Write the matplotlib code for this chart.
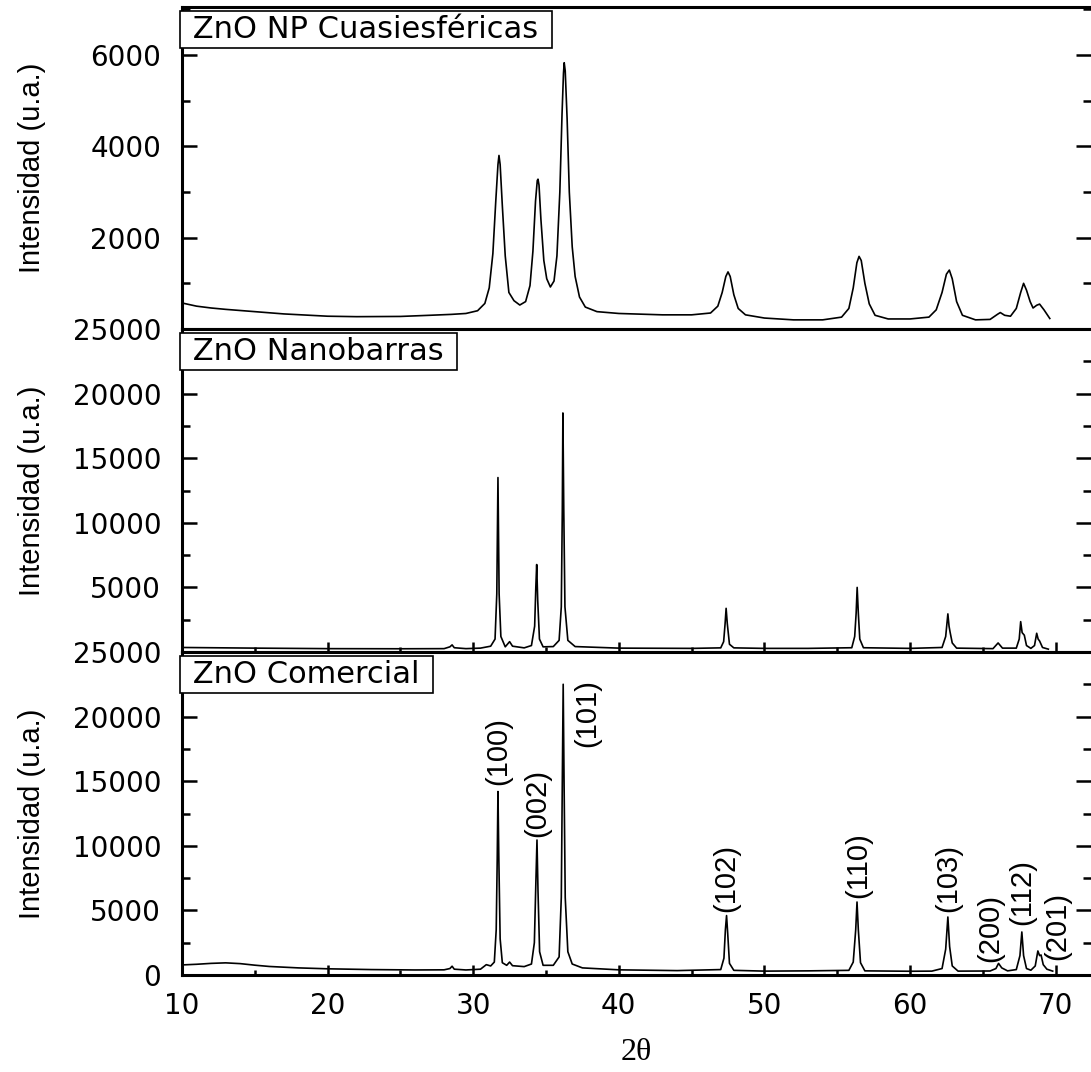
import matplotlib
matplotlib.use('Agg')
import matplotlib.pyplot as plt
from matplotlib import font_manager
from matplotlib.ticker import MultipleLocator

# ---------------------------------------------------------------------------
# Data
# ---------------------------------------------------------------------------

# ZnO NP Cuasiesfericas
np_x = [10.0, 11.0, 12.0, 13.0, 15.0, 17.0, 20.0, 22.0, 25.0, 27.0,
        28.5, 29.5, 30.3, 30.8, 31.1, 31.35, 31.55, 31.7, 31.77, 31.85,
        32.0, 32.2, 32.45, 32.8, 33.2, 33.6, 33.9, 34.1, 34.28, 34.4,
        34.45, 34.52, 34.65, 34.85, 35.05, 35.3, 35.55, 35.75, 35.95, 36.1,
        36.2, 36.25, 36.32, 36.45, 36.6, 36.8, 37.0, 37.3, 37.7, 38.5,
        40.0, 43.0, 45.0, 46.3, 46.8, 47.1, 47.35, 47.5, 47.65, 47.9,
        48.2, 48.7, 50.0, 52.0, 54.0, 55.3, 55.8, 56.1, 56.35, 56.5,
        56.65, 56.9, 57.2, 57.6, 58.5, 60.0, 61.3, 61.8, 62.2, 62.5,
        62.7, 62.9, 63.2, 63.6, 64.5, 65.5, 66.0, 66.2, 66.5, 66.9,
        67.3, 67.6, 67.8, 68.0, 68.25, 68.45, 68.7, 68.9, 69.2, 69.6]
np_y = [570, 500, 460, 430, 380, 330, 280, 270, 275, 300,
        320, 340, 400, 560, 900, 1650, 2800, 3600, 3800, 3600,
        2700, 1600, 800, 620, 525, 600, 950, 1700, 2800, 3250,
        3280, 3150, 2400, 1500, 1100, 920, 1050, 1600, 3000, 4700,
        5600, 5830, 5650, 4600, 3000, 1800, 1150, 700, 480, 380,
        340, 310, 310, 350, 500, 800, 1150, 1250, 1150, 750,
        450, 310, 240, 200, 200, 260, 450, 900, 1450, 1590,
        1500, 1000, 550, 300, 220, 220, 260, 420, 800, 1200,
        1290, 1100, 600, 300, 200, 210, 320, 360, 300, 280,
        450, 800, 1000, 850, 600, 460, 520, 545, 420, 230]

# ZnO Nanobarras
nb_x = [10.0, 15.0, 20.0, 25.0, 28.0, 28.4, 28.55, 28.7, 29.5, 30.5,
        31.2, 31.5, 31.62, 31.7, 31.78, 31.9, 32.2, 32.5, 32.7, 33.5,
        34.0, 34.22, 34.3, 34.36, 34.43, 34.55, 34.8, 35.5, 35.9, 36.05,
        36.12, 36.16, 36.22, 36.3, 36.5, 37.0, 40.0, 45.0, 47.0, 47.2,
        47.3, 47.37, 47.45, 47.6, 47.9, 50.0, 53.0, 56.0, 56.2, 56.3,
        56.37, 56.45, 56.55, 56.8, 60.0, 62.2, 62.45, 62.6, 62.68, 62.75,
        62.9, 63.2, 65.7, 66.05, 66.35, 67.3, 67.5, 67.6, 67.7, 67.85,
        68.0, 68.3, 68.55, 68.7, 68.8, 68.9, 69.1, 69.5]
nb_y = [350, 300, 260, 250, 260, 400, 550, 330, 260, 300,
        450, 1000, 4500, 13500, 4500, 1200, 400, 800, 450, 320,
        500, 2000, 5000, 6770, 4000, 1000, 400, 420, 900, 3500,
        11000, 18500, 11000, 3500, 900, 420, 300, 280, 320, 800,
        2200, 3380, 2200, 600, 320, 280, 280, 330, 1200, 3000,
        5000, 3000, 1000, 330, 280, 350, 1200, 2950, 2000, 1550,
        700, 300, 260, 700, 300, 300, 1000, 2350, 1500, 1300,
        500, 280, 500, 1450, 1000, 850, 350, 220]

# ZnO Comercial
com_x = [10.0, 11.0, 12.0, 13.0, 14.0, 15.0, 16.0, 18.0, 20.0, 23.0,
         26.0, 28.0, 28.4, 28.55, 28.7, 29.5, 30.5, 30.9, 31.2, 31.45,
         31.58, 31.65, 31.7, 31.76, 31.85, 32.0, 32.3, 32.5, 32.7, 33.5,
         34.0, 34.2, 34.3, 34.38, 34.45, 34.56, 34.8, 35.5, 35.9, 36.05,
         36.12, 36.18, 36.24, 36.32, 36.5, 36.8, 37.5, 40.0, 44.0, 47.0,
         47.22, 47.32, 47.4, 47.48, 47.6, 47.9, 50.0, 53.0, 55.8, 56.1,
         56.27, 56.36, 56.45, 56.6, 56.9, 60.0, 61.5, 62.2, 62.45, 62.6,
         62.72, 62.9, 63.3, 65.5, 65.9, 66.08, 66.3, 66.7, 67.3, 67.55,
         67.68, 67.8, 68.0, 68.3, 68.6, 68.78, 68.9, 69.0, 69.15, 69.4,
         69.8]
com_y = [780, 830, 900, 940, 880, 760, 660, 550, 480, 420,
         390, 400, 500, 680, 450, 390, 450, 800, 700, 1000,
         3500, 9000, 14200, 9000, 2800, 950, 750, 1000, 720, 650,
         850, 2500, 7000, 10450, 6500, 1800, 750, 750, 1400, 6000,
         15000, 22500, 15000, 6000, 1800, 850, 550, 400, 340, 420,
         1300, 3500, 4600, 3200, 900, 360, 300, 320, 360, 1000,
         3500, 5650, 3500, 950, 320, 290, 300, 500, 2000, 4490,
         2200, 700, 300, 310, 500, 900, 550, 320, 420, 1500,
         3330, 1500, 500, 370, 700, 1860, 1500, 1550, 800, 450,
         300]

# Miller indices written over the commercial pattern
hkl_labels = ['(100)', '(002)', '(101)', '(102)', '(110)',
              '(103)', '(200)', '(112)', '(201)']
hkl_x = [31.70, 34.38, 37.82, 47.36, 56.43, 62.60, 65.50, 67.69, 70.10]
hkl_y = [14700, 10680, 17650, 4880, 5960, 4880, 1000, 3870, 1160]

panel_names = [' ZnO NP Cuasiesféricas ', ' ZnO Nanobarras ', ' ZnO Comercial ']
panel_ymax = [7050, 25000, 25000]
panel_yticks = [[2000, 4000, 6000],
                [5000, 10000, 15000, 20000, 25000],
                [0, 5000, 10000, 15000, 20000, 25000]]
panel_yminor = [1000, 2500, 2500]
x_ticks = [10, 20, 30, 40, 50, 60, 70]

# ---------------------------------------------------------------------------
# Fonts
# ---------------------------------------------------------------------------


def pick_font(names):
    for n in names:
        try:
            font_manager.findfont(n, fallback_to_default=False)
            return n
        except Exception:
            pass
    return 'DejaVu Sans'


WIDE = 'DejaVu Sans'
NARROW = pick_font(['Liberation Sans Narrow', 'Liberation Sans'])
NARROW_SIZE = 24 if NARROW == 'Liberation Sans Narrow' else 21
SERIF = pick_font(['Liberation Serif', 'DejaVu Serif'])

plt.rcParams.update({
    'font.family': WIDE,
    'axes.linewidth': 2.2,
    'xtick.major.width': 1.8,
    'ytick.major.width': 1.8,
    'xtick.minor.width': 1.8,
    'ytick.minor.width': 1.8,
})

# ---------------------------------------------------------------------------
# Figure
# ---------------------------------------------------------------------------

W, H = 1091, 1072
fig = plt.figure(figsize=(W / 100, H / 100), dpi=100)

left = 182 / W
edges = [(7, 329), (329, 652), (652, 975)]
series = [(np_x, np_y), (nb_x, nb_y), (com_x, com_y)]

axes = []
for i, ((top, bot), (xs, ys)) in enumerate(zip(edges, series)):
    ax = fig.add_axes([left, 1 - bot / H, 1 - left, (bot - top) / H])
    ax.plot(xs, ys, color='black', lw=1.2)
    ax.set_xlim(10, 72.43)
    ax.set_ylim(0, panel_ymax[i])

    ax.spines['right'].set_visible(False)
    ax.set_yticks(panel_yticks[i])
    ax.yaxis.set_minor_locator(MultipleLocator(panel_yminor[i]))
    ax.tick_params(axis='y', which='both', direction='in', left=True,
                   right=True, labelsize=20, pad=15)
    ax.tick_params(axis='y', which='major', length=11)
    ax.tick_params(axis='y', which='minor', length=5.5)

    ax.set_xticks(x_ticks)
    ax.xaxis.set_minor_locator(MultipleLocator(5))
    if i == 0:
        ax.tick_params(axis='x', which='both', bottom=False, top=False,
                       labelbottom=False)
    else:
        ax.tick_params(axis='x', which='both', direction='in', bottom=True,
                       top=False, labelbottom=(i == 2), labelsize=20, pad=12)
        ax.tick_params(axis='x', which='major', length=7)
        ax.tick_params(axis='x', which='minor', length=3.5)

    ax.set_ylabel('Intensidad (u.a.)', family=NARROW, fontsize=NARROW_SIZE)
    ax.yaxis.set_label_coords(-0.15, 0.5)

    ax.text(0.0015, 0.93, panel_names[i], transform=ax.transAxes,
            ha='left', va='center', fontsize=22, zorder=6,
            bbox=dict(boxstyle='square,pad=0.12', fc='white', ec='black',
                      lw=1.2))
    axes.append(ax)

ax3 = axes[2]
for lab, x, y in zip(hkl_labels, hkl_x, hkl_y):
    ax3.text(x, y, lab, rotation=90, ha='center', va='bottom',
             family=NARROW, fontsize=NARROW_SIZE, zorder=4)

ax3.set_xlabel('2θ', family=SERIF, fontsize=23, va='center')
ax3.xaxis.set_label_coords(0.5, -0.24)

fig.savefig('out.png', dpi=100)
